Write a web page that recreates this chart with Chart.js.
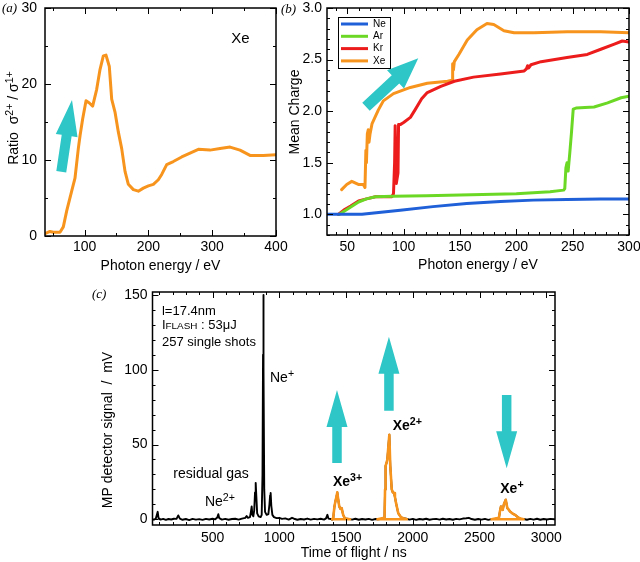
<!DOCTYPE html>
<html>
<head>
<meta charset="utf-8">
<script src="https://cdn.jsdelivr.net/npm/chart.js@4.4.1/dist/chart.umd.min.js"></script>
<style>
  html, body { margin: 0; padding: 0; background: #fff; overflow: hidden; }
  #page { position: relative; width: 640px; height: 562px; }
  .panel { position: absolute; }
</style>
</head>
<body>
<div id="page">
  <div class="panel" style="left:0;top:0;width:300px;height:280px"><canvas id="chartA"></canvas></div>
  <div class="panel" style="left:280px;top:0;width:360px;height:280px"><canvas id="chartB"></canvas></div>
  <div class="panel" style="left:80px;top:280px;width:560px;height:282px"><canvas id="chartC"></canvas></div>
</div>
<script>
// panel (a) - Xe ratio sigma2+/sigma1+
const energyA = [38, 45.8, 51.1, 61.5, 66.7, 72, 79.8, 85, 90.2, 92.9, 97, 102.3, 107.5, 112.7, 119, 124.2, 129.4, 133.6, 138.8, 142.5, 147.7, 152.9, 158.2, 163.4, 168.6, 176.5, 184.3, 192.1, 200, 207.8, 215.6, 220.9, 228.7, 239.1, 252.2, 265.3, 278.3, 296.6, 312.3, 328, 343.6, 359.3, 380.2, 400];
const ratioA = [0.3, 0.6, 0.5, 0.5, 1.2, 3.3, 5.9, 7.6, 11.5, 13.2, 15.4, 17.8, 17.5, 17.1, 19.3, 21.9, 23.7, 23.8, 22.3, 18, 16.3, 13.7, 11.5, 8.5, 6.8, 6.1, 5.9, 6.3, 6.6, 6.8, 7.4, 8.1, 9.4, 9.8, 10.4, 10.9, 11.4, 11.3, 11.5, 11.7, 11.3, 10.6, 10.6, 10.7];
const xTicksA = [100, 200, 300, 400];
const yTicksA = [0, 10, 20, 30];

// panel (b) - mean charge
const neEnergy = [32, 45, 63, 80, 97, 126, 156, 186, 215, 245, 275, 300];
const neCharge = [1.0, 1.0, 1.0, 1.02, 1.04, 1.075, 1.105, 1.125, 1.138, 1.145, 1.148, 1.15];
const arEnergy = [43, 50, 60, 67, 75, 90, 120, 160, 200, 230, 242, 243, 244, 245, 246, 247.5, 249, 250.5, 253, 269, 281, 293, 300];
const arCharge = [1.0, 1.05, 1.12, 1.15, 1.17, 1.175, 1.18, 1.19, 1.2, 1.22, 1.235, 1.25, 1.45, 1.5, 1.42, 1.6, 1.8, 2.02, 2.03, 2.04, 2.08, 2.13, 2.145];
const krEnergy = [42, 48, 53, 60, 67, 75, 89.5, 91, 92, 92.5, 93.5, 95, 95.5, 97, 100, 106, 110, 116, 121, 133, 145, 162, 186, 207, 209, 210, 211, 213, 222, 245, 263, 275, 287, 294, 300];
const krCharge = [1.0, 1.05, 1.08, 1.13, 1.15, 1.17, 1.17, 1.2, 1.5, 1.86, 1.3, 1.4, 1.87, 1.87, 1.89, 1.94, 2.01, 2.12, 2.18, 2.24, 2.29, 2.33, 2.36, 2.39, 2.41, 2.44, 2.42, 2.45, 2.48, 2.52, 2.55, 2.6, 2.65, 2.68, 2.67];
const xeEnergy = [45, 49.5, 54, 59.8, 64.2, 65.7, 66.5, 67, 67.8, 68.6, 69.3, 70.2, 72, 77.5, 82, 91, 106, 121, 139, 143, 143.5, 144.2, 145, 149, 156.5, 165, 174, 180, 189, 198, 216, 245, 275, 300];
const xeCharge = [1.24, 1.29, 1.32, 1.29, 1.29, 1.26, 1.62, 1.5, 1.78, 1.82, 1.7, 1.78, 1.88, 2.01, 2.1, 2.17, 2.23, 2.27, 2.29, 2.3, 2.46, 2.4, 2.48, 2.55, 2.69, 2.79, 2.85, 2.84, 2.78, 2.76, 2.76, 2.77, 2.77, 2.76];
const gasLabels = ['Ne', 'Ar', 'Kr', 'Xe'];
const xTicksB = [50, 100, 150, 200, 250, 300];
const yTicksB = [1.0, 1.5, 2.0, 2.5, 3.0];

// panel (c) - time of flight spectrum
const tofTime = [50, 60, 75, 89, 95, 110, 130, 150, 170, 190, 210, 230, 243, 255, 275, 300, 325, 350, 375, 400, 425, 450, 475, 500, 520, 535, 543, 550, 570, 595, 620, 645, 670, 695, 720, 745, 755, 765, 780, 787, 793, 798, 805, 812, 818, 823, 828, 834, 845, 860, 868, 874, 878, 880, 883, 887, 893, 905, 918, 926, 931, 935, 940, 948, 960, 980, 1000, 1020, 1045, 1070, 1095, 1110, 1135, 1160, 1185, 1210, 1235, 1260, 1285, 1310, 1335, 1350, 1360, 1368, 1385, 1395, 1404, 1412, 1420, 1428, 1434, 1440, 1449, 1458, 1467, 1478, 1492, 1520, 1545, 1570, 1595, 1620, 1645, 1670, 1695, 1720, 1745, 1765, 1788, 1792, 1796, 1804, 1809, 1817, 1824, 1831, 1842, 1850, 1859, 1866, 1874, 1891, 1910, 1929, 1950, 1975, 2000, 2025, 2050, 2075, 2100, 2125, 2150, 2175, 2200, 2225, 2250, 2275, 2300, 2325, 2350, 2375, 2400, 2420, 2440, 2465, 2490, 2515, 2540, 2565, 2590, 2615, 2645, 2652, 2660, 2673, 2683, 2696, 2708, 2718, 2728, 2745, 2765, 2785, 2805, 2830, 2855, 2880, 2905, 2930, 2955, 2980, 3005, 3030, 3060];
const tofSignal = [0.2, -0.3, 0.5, 5.0, 0.8, -0.2, 0.3, -0.4, 0.2, -0.1, 0.4, 0.3, 2.6, 0.5, -0.3, 0.2, -0.5, 0.3, -0.2, 0.1, -0.4, 0.3, -0.1, 0.4, 0.0, 1.2, 3.4, 0.8, -0.2, 0.3, -0.3, 0.2, 0.4, -0.2, 0.5, 1.0, 2.2, 1.0, 1.5, 5.0, 8.6, 3.0, 2.0, 6.0, 18.0, 24.4, 15.0, 4.0, 2.0, 1.5, 3.0, 30.0, 110.0, 150.0, 100.0, 20.0, 5.0, 3.0, 3.5, 10.0, 16.0, 17.6, 9.0, 3.0, 1.5, 0.8, 1.0, 0.3, 0.6, -0.2, 1.0, 0.4, -0.3, 0.2, -0.1, 0.5, -0.2, 0.3, 0.0, 0.4, -0.2, 0.6, 3.0, 0.5, 0.2, -0.3, 1.0, 8.0, 12.0, 15.0, 18.0, 14.0, 8.6, 7.0, 7.5, 3.0, 0.5, 0.3, -0.2, 0.4, -0.3, 0.2, -0.1, 0.3, -0.4, 0.2, 0.0, 0.5, 1.0, 20.0, 35.7, 38.0, 40.0, 49.0, 56.5, 36.0, 20.0, 18.0, 17.6, 15.0, 11.0, 4.0, 1.5, 0.7, 0.4, -0.2, 0.3, -0.4, 0.2, -0.1, 0.4, -0.3, 0.1, 0.3, -0.2, 0.4, -0.1, 0.2, -0.3, 0.3, 0.0, 0.5, 0.7, 1.0, 0.2, -0.3, 0.2, -0.2, 0.3, -0.4, 0.1, 0.3, 1.0, 5.0, 8.6, 6.3, 10.4, 13.1, 7.5, 6.5, 5.2, 4.0, 3.0, 1.5, 0.5, 0.2, -0.3, 0.3, -0.2, 0.4, -0.3, 0.2, -0.1, 0.3, 0.0];
const xe3Time = [1395, 1404, 1412, 1420, 1428, 1434, 1440, 1449, 1458, 1467, 1478, 1492, 1530, 1395];
const xe3Signal = [0, 1, 8, 12, 15, 18, 14, 8.6, 7, 7.5, 3, 0.5, 0, 0];
const xe2Time = [1735, 1788, 1792, 1796, 1804, 1809, 1817, 1824, 1831, 1842, 1850, 1859, 1866, 1874, 1891, 1910, 1929, 1955, 1735];
const xe2Signal = [0, 1, 20, 35.7, 38, 40, 49, 56.5, 36, 20, 18, 17.6, 15, 11, 4, 1.5, 0.7, 0, 0];
const xe1Time = [2590, 2645, 2652, 2660, 2673, 2683, 2696, 2708, 2718, 2728, 2745, 2765, 2785, 2805, 2830, 2590];
const xe1Signal = [0, 1, 5, 8.6, 6.3, 10.4, 13.1, 7.5, 6.5, 5.2, 4, 3, 1.5, 0.5, 0, 0];
const xTicksC = [500, 1000, 1500, 2000, 2500, 3000];
const yTicksC = [0, 50, 100, 150];

const ORANGE = '#f7941d';
const CYAN = '#2ec6c6';
const FONT = '"Liberation Sans", Arial, sans-serif';

Chart.defaults.font.family = FONT;
Chart.defaults.color = '#000';
Chart.defaults.animation = false;

function pts(xs, ys) {
    return xs.map(function (x, i) { return { x: x, y: ys[i] }; });
}

function line(label, xs, ys, color, width, order) {
    return {
        label: label, data: pts(xs, ys), borderColor: color, backgroundColor: color,
        borderWidth: width, pointRadius: 0, tension: 0, order: order || 0,
        borderJoinStyle: 'round', borderCapStyle: 'round'
    };
}

// fixed-size axis boxes; labels may overhang the plot box like in the figure
function fixBox(s, prop, size) {
    s[prop] = size;
    s.paddingTop = 0; s.paddingBottom = 0; s.paddingLeft = 0; s.paddingRight = 0;
}

function axes(o) {
    return {
        x: {
            type: 'linear', min: o.xMin, max: o.xMax,
            grid: { display: false, drawTicks: false }, border: { display: false },
            afterBuildTicks: function (s) { s.ticks = o.xTicks.map(function (v) { return { value: v }; }); },
            afterFit: function (s) { fixBox(s, 'height', o.xHeight); },
            ticks: { padding: o.xPad, font: { size: 14 }, color: '#000', maxRotation: 0, autoSkip: false,
                callback: function (v) { return String(v); } },
            title: { display: true, text: o.xTitle, font: { size: 14 }, color: '#000', padding: { top: 0, bottom: o.xTitlePad } }
        },
        y: {
            type: 'linear', min: o.yMin, max: o.yMax,
            grid: { display: false, drawTicks: false }, border: { display: false },
            afterBuildTicks: function (s) { s.ticks = o.yTicks.map(function (v) { return { value: v }; }); },
            afterFit: function (s) { fixBox(s, 'width', o.yWidth); },
            ticks: { padding: o.yPad, font: { size: 14 }, color: '#000', autoSkip: false, callback: o.yFmt },
            title: { display: false }
        }
    };
}

// nudge layout padding until the plot box sits where the figure has it
function pinArea(chart, t) {
    for (let k = 0; k < 2; k++) {
        const a = chart.chartArea;
        const p = Object.assign({}, chart.config.options.layout.padding);
        p.top += t.top - a.top;
        p.left += t.left - a.left;
        p.right += a.right - t.right;
        p.bottom += a.bottom - t.bottom;
        chart.config.options.layout.padding = p;
        chart.update();
    }
}

// box round the plot with inward ticks on all four sides
function framePlugin(t) {
    return {
        id: 'frame',
        afterDatasetsDraw: function (chart) {
            const ctx = chart.ctx, a = chart.chartArea, x = chart.scales.x, y = chart.scales.y;
            ctx.save();
            ctx.strokeStyle = '#000';
            ctx.lineWidth = 1;
            ctx.beginPath();
            for (let i = Math.ceil(x.min / t.xMinor); i * t.xMinor <= x.max; i++) {
                const v = i * t.xMinor;
                const len = Math.abs(v / t.xMajor - Math.round(v / t.xMajor)) < 1e-6 ? 6 : 3;
                const px = Math.round(x.getPixelForValue(v)) + 0.5;
                ctx.moveTo(px, a.bottom); ctx.lineTo(px, a.bottom - len);
                ctx.moveTo(px, a.top); ctx.lineTo(px, a.top + len);
            }
            for (let i = Math.ceil(y.min / t.yMinor - 1e-9); i * t.yMinor <= y.max + 1e-9; i++) {
                const v = i * t.yMinor;
                const len = Math.abs(v / t.yMajor - Math.round(v / t.yMajor)) < 1e-6 ? 6 : 3;
                const py = Math.round(y.getPixelForValue(v)) + 0.5;
                ctx.moveTo(a.left, py); ctx.lineTo(a.left + len, py);
                ctx.moveTo(a.right, py); ctx.lineTo(a.right - len, py);
            }
            ctx.stroke();
            ctx.lineWidth = 1.5;
            ctx.strokeRect(a.left, a.top, a.right - a.left, a.bottom - a.top);
            ctx.restore();
        }
    };
}

function drawArrow(ctx, x0, y0, x1, y1, w, hw, hl) {
    const dx = x1 - x0, dy = y1 - y0, len = Math.hypot(dx, dy);
    const ux = dx / len, uy = dy / len, nx = -uy, ny = ux;
    const bx = x1 - ux * hl, by = y1 - uy * hl;
    ctx.beginPath();
    ctx.moveTo(x0 + nx * w / 2, y0 + ny * w / 2);
    ctx.lineTo(bx + nx * w / 2, by + ny * w / 2);
    ctx.lineTo(bx + nx * hw / 2, by + ny * hw / 2);
    ctx.lineTo(x1, y1);
    ctx.lineTo(bx - nx * hw / 2, by - ny * hw / 2);
    ctx.lineTo(bx - nx * w / 2, by - ny * w / 2);
    ctx.lineTo(x0 - nx * w / 2, y0 - ny * w / 2);
    ctx.closePath();
    ctx.fill();
}

// text with superscript / small pieces: parts = [[text, 'n'|'sup'|'small'], ...]
function partSize(kind, size) { return kind === 'n' ? size : size * 0.76; }
function richWidth(ctx, parts, size, bold) {
    let w = 0;
    parts.forEach(function (p) {
        ctx.font = (bold ? 'bold ' : '') + partSize(p[1], size) + 'px ' + FONT;
        w += ctx.measureText(p[0]).width;
    });
    return w;
}
function drawRich(ctx, x, y, parts, size, bold) {
    let cx = x;
    ctx.textBaseline = 'alphabetic';
    ctx.textAlign = 'left';
    parts.forEach(function (p) {
        const dy = p[1] === 'sup' ? -size * 0.36 : 0;
        ctx.font = (bold ? 'bold ' : '') + partSize(p[1], size) + 'px ' + FONT;
        ctx.fillText(p[0], cx, y + dy);
        cx += ctx.measureText(p[0]).width;
    });
}
// rotated axis title, centred on (x, y)
function verticalTitle(ctx, parts, x, y) {
    const w = richWidth(ctx, parts, 14, false);
    ctx.save();
    ctx.fillStyle = '#000';
    ctx.translate(x, y);
    ctx.rotate(-Math.PI / 2);
    drawRich(ctx, -w / 2, 5, parts, 14, false);
    ctx.restore();
}

function panelLabel(ctx, text, x, y) {
    ctx.font = 'italic 13px "Liberation Serif", "Times New Roman", serif';
    ctx.textBaseline = 'alphabetic';
    ctx.textAlign = 'left';
    ctx.fillStyle = '#000';
    ctx.fillText(text, x, y);
}

function overlayPlugin(draw) {
    return {
        id: 'overlay',
        afterDraw: function (chart) {
            const ctx = chart.ctx;
            const px = function (v) { return chart.scales.x.getPixelForValue(v); };
            const py = function (v) { return chart.scales.y.getPixelForValue(v); };
            ctx.save();
            draw(chart, ctx, px, py);
            ctx.restore();
        }
    };
}

// ---------- (a)
const chartA = new Chart(document.getElementById('chartA'), {
    type: 'line',
    data: { datasets: [line('Xe', energyA, ratioA, ORANGE, 3)] },
    options: {
        responsive: true, maintainAspectRatio: false,
        layout: { padding: { left: 0, right: 24, top: 8, bottom: 0 } },
        plugins: { legend: { display: false }, tooltip: { enabled: false } },
        scales: axes({
            xMin: 38, xMax: 400, xTicks: xTicksA, xHeight: 44, xPad: 3, xTitle: 'Photon energy / eV', xTitlePad: 5,
            yMin: 0, yMax: 30, yTicks: yTicksA, yWidth: 45, yPad: 8,
            yFmt: function (v) { return String(v); }
        })
    },
    plugins: [framePlugin({ xMinor: 50, xMajor: 100, yMinor: 5, yMajor: 10 }), overlayPlugin(function (chart, ctx, px, py) {
        panelLabel(ctx, '(a)', 2, 12);
        ctx.fillStyle = '#000';
        drawRich(ctx, px(330), py(25.4), [['Xe', 'n']], 15, false);
        verticalTitle(ctx, [['Ratio  \u03c3', 'n'], ['2+', 'sup'], [' / \u03c3', 'n'], ['1+', 'sup']], 13, 118);
        ctx.fillStyle = CYAN;
        drawArrow(ctx, px(63.5), py(8.46), px(80.3), py(17.9), 10, 22, 36);
    })]
});
pinArea(chartA, { left: 45, right: 276, top: 8, bottom: 236 });

// ---------- (b)
const gasColors = ['#1f5fd8', '#6cd826', '#ec1c1c', ORANGE];
const chartB = new Chart(document.getElementById('chartB'), {
    type: 'line',
    data: {
        datasets: [
            line(gasLabels[0], neEnergy, neCharge, gasColors[0], 3),
            line(gasLabels[1], arEnergy, arCharge, gasColors[1], 3),
            line(gasLabels[2], krEnergy, krCharge, gasColors[2], 3),
            line(gasLabels[3], xeEnergy, xeCharge, gasColors[3], 3)
        ]
    },
    options: {
        responsive: true, maintainAspectRatio: false,
        layout: { padding: { left: 0, right: 11, top: 8, bottom: 0 } },
        plugins: { legend: { display: false }, tooltip: { enabled: false } },
        scales: axes({
            xMin: 32, xMax: 300, xTicks: xTicksB, xHeight: 45, xPad: 4, xTitle: 'Photon energy / eV', xTitlePad: 6,
            yMin: 0.8, yMax: 3.0, yTicks: yTicksB, yWidth: 47, yPad: 5,
            yFmt: function (v) { return v.toFixed(1); }
        })
    },
    plugins: [framePlugin({ xMinor: 10, xMajor: 50, yMinor: 0.1, yMajor: 0.5 }), overlayPlugin(function (chart, ctx, px, py) {
        panelLabel(ctx, '(b)', 1, 13);
        verticalTitle(ctx, [['Mean Charge', 'n']], 14, 112);
        const a = chart.chartArea;
        // legend box
        const lx = a.left + 11, ly = a.top + 9;
        ctx.fillStyle = '#fff';
        ctx.fillRect(lx, ly, 52, 51);
        ctx.strokeStyle = '#000';
        ctx.lineWidth = 1;
        ctx.strokeRect(lx + 0.5, ly + 0.5, 52, 51);
        ctx.font = '10px ' + FONT;
        ctx.textBaseline = 'middle';
        chart.data.datasets.forEach(function (d, i) {
            const yy = ly + 7 + i * 12.3;
            ctx.strokeStyle = d.borderColor;
            ctx.lineWidth = 3;
            ctx.beginPath();
            ctx.moveTo(lx + 3, yy); ctx.lineTo(lx + 30, yy);
            ctx.stroke();
            ctx.fillStyle = '#000';
            ctx.fillText(d.label, lx + 35, yy);
        });
        ctx.fillStyle = CYAN;
        drawArrow(ctx, px(66.6), py(2.043), px(113), py(2.512), 11, 25, 31);
    })]
});
pinArea(chartB, { left: 47, right: 349, top: 8, bottom: 235 });

// ---------- (c)
const chartC = new Chart(document.getElementById('chartC'), {
    type: 'line',
    data: {
        datasets: [
            line('signal', tofTime, tofSignal, '#000', 1.9, 1),
            line('Xe3+', xe3Time, xe3Signal, ORANGE, 2.6, 0),
            line('Xe2+', xe2Time, xe2Signal, ORANGE, 2.6, 0),
            line('Xe+', xe1Time, xe1Signal, ORANGE, 2.6, 0)
        ]
    },
    options: {
        responsive: true, maintainAspectRatio: false,
        layout: { padding: { left: 0, right: 85, top: 12, bottom: 0 } },
        plugins: { legend: { display: false }, tooltip: { enabled: false } },
        scales: axes({
            xMin: 50, xMax: 3065, xTicks: xTicksC, xHeight: 37, xPad: 5, xTitle: 'Time of flight / ns', xTitlePad: 0,
            yMin: -3.8, yMax: 152, yTicks: yTicksC, yWidth: 72.5, yPad: 5,
            yFmt: function (v) { return String(v); }
        })
    },
    plugins: [framePlugin({ xMinor: 100, xMajor: 500, yMinor: 10, yMajor: 50 }), overlayPlugin(function (chart, ctx, px, py) {
        panelLabel(ctx, '(c)', 12, 18);
        verticalTitle(ctx, [['MP detector signal  /  mV', 'n']], 27, 150);
        ctx.fillStyle = '#000';
        drawRich(ctx, px(121), py(136.7), [['l=17.4nm', 'n']], 13, false);
        drawRich(ctx, px(121), py(127), [['I', 'n'], ['FLASH', 'small'], [' : 53\u03bcJ', 'n']], 13, false);
        drawRich(ctx, px(121), py(115.7), [['257 single shots', 'n']], 13, false);
        drawRich(ctx, px(930), py(92), [['Ne', 'n'], ['+', 'sup']], 14, false);
        drawRich(ctx, px(206), py(27.4), [['residual gas', 'n']], 14, false);
        drawRich(ctx, px(443), py(8.9), [['Ne', 'n'], ['2+', 'sup']], 14, false);
        drawRich(ctx, px(1402), py(22.3), [['Xe', 'n'], ['3+', 'sup']], 14, true);
        drawRich(ctx, px(1849), py(59.7), [['Xe', 'n'], ['2+', 'sup']], 14, true);
        drawRich(ctx, px(2655), py(17.4), [['Xe', 'n'], ['+', 'sup']], 14, true);
        ctx.fillStyle = CYAN;
        drawArrow(ctx, px(1432), py(37.7), px(1432), py(86.5), 9.5, 21, 37);
        drawArrow(ctx, px(1821), py(72.6), px(1821), py(122), 9.5, 21, 37);
        drawArrow(ctx, px(2703), py(83.1), px(2703), py(34.1), 9.5, 21, 37);
    })]
});
pinArea(chartC, { left: 72.5, right: 475, top: 12, bottom: 245 });
</script>
</body>
</html>
